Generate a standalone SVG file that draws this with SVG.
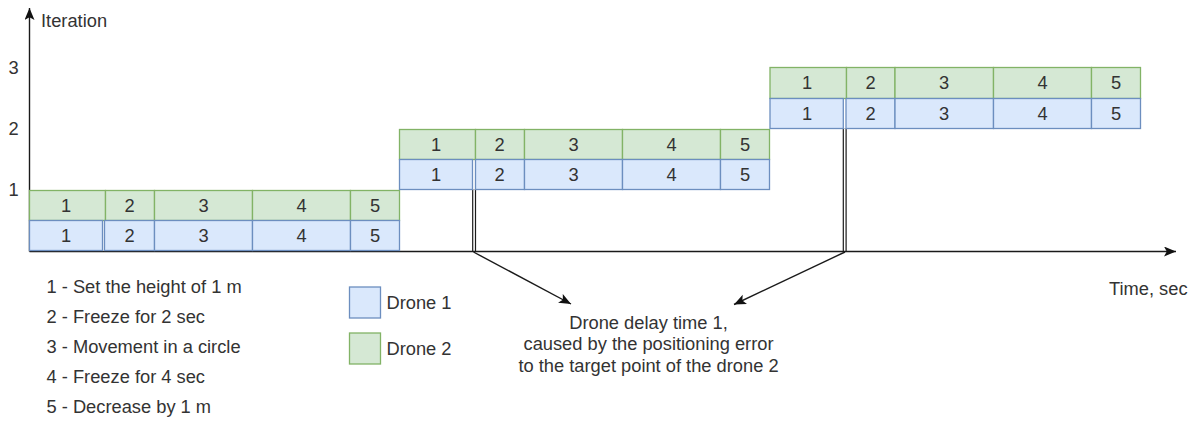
<svg xmlns="http://www.w3.org/2000/svg" width="1195" height="421" viewBox="0 0 1195 421">
<style>
text{font-family:"Liberation Sans",Arial,sans-serif;font-size:18.3px;fill:#333}
.c{text-anchor:middle}
.g{fill:#d5e8d4;stroke:#82b366;stroke-width:1.3}
.b{fill:#dae8fc;stroke:#6c8ebf;stroke-width:1.3}
.ax{stroke:#1a1a1a;stroke-width:1.4;fill:none}
.dl{stroke:#1a1a1a;stroke-width:4;fill:none}
.dlw{stroke:#fff;stroke-width:1.6;fill:none}
</style>
<defs>
<marker id="ah" markerUnits="userSpaceOnUse" markerWidth="15" markerHeight="12" refX="12" refY="5" orient="auto" viewBox="0 0 15 12">
<path d="M0,0 L12,5 L0,10 L2.8,5 Z" fill="#111"/>
</marker>
</defs>
<rect width="1195" height="421" fill="#fff"/>

<g id="connectors">
<line class="dl" x1="474.1" y1="189.5" x2="474.1" y2="251.5"/>
<line class="dlw" x1="474.1" y1="189.5" x2="474.1" y2="251"/>
<line class="dl" x1="844.7" y1="128.5" x2="844.7" y2="251.5"/>
<line class="dlw" x1="844.7" y1="128.5" x2="844.7" y2="251"/>
<line class="ax" x1="29.5" y1="251.5" x2="29.5" y2="8" marker-end="url(#ah)"/>
<line class="ax" x1="29.5" y1="251.5" x2="1176" y2="251.5" marker-end="url(#ah)"/>
<line class="ax" x1="473.5" y1="252" x2="571" y2="304" marker-end="url(#ah)"/>
<line class="ax" x1="845" y1="252" x2="734" y2="304.5" marker-end="url(#ah)"/>
</g>

<g id="block1">
<rect class="g" x="29.5" y="190.5" width="76" height="30"/>
<rect class="g" x="105.5" y="190.5" width="49" height="30"/>
<rect class="g" x="154.5" y="190.5" width="98" height="30"/>
<rect class="g" x="252.5" y="190.5" width="98" height="30"/>
<rect class="g" x="350.5" y="190.5" width="49" height="30"/>
<rect class="b" x="29.5" y="220.5" width="73" height="30"/>
<rect class="b" x="104.5" y="220.5" width="50" height="30"/>
<rect class="b" x="154.5" y="220.5" width="98" height="30"/>
<rect class="b" x="252.5" y="220.5" width="98" height="30"/>
<rect class="b" x="350.5" y="220.5" width="49" height="30"/>
<text class="c" x="66" y="211.5">1</text>
<text class="c" x="129.5" y="211.5">2</text>
<text class="c" x="203.5" y="211.5">3</text>
<text class="c" x="301.5" y="211.5">4</text>
<text class="c" x="375" y="211.5">5</text>
<text class="c" x="66" y="242">1</text>
<text class="c" x="129.5" y="242">2</text>
<text class="c" x="203.5" y="242">3</text>
<text class="c" x="301.5" y="242">4</text>
<text class="c" x="375" y="242">5</text>
</g>

<g id="block2">
<rect class="g" x="399.5" y="129.5" width="76" height="30"/>
<rect class="g" x="475.5" y="129.5" width="49" height="30"/>
<rect class="g" x="524.5" y="129.5" width="98" height="30"/>
<rect class="g" x="622.5" y="129.5" width="98" height="30"/>
<rect class="g" x="720.5" y="129.5" width="49" height="30"/>
<rect class="b" x="399.5" y="159.5" width="73" height="30"/>
<rect class="b" x="475.5" y="159.5" width="49" height="30"/>
<rect class="b" x="524.5" y="159.5" width="98" height="30"/>
<rect class="b" x="622.5" y="159.5" width="98" height="30"/>
<rect class="b" x="720.5" y="159.5" width="49" height="30"/>
<text class="c" x="436" y="150.5">1</text>
<text class="c" x="499.5" y="150.5">2</text>
<text class="c" x="573.5" y="150.5">3</text>
<text class="c" x="671.5" y="150.5">4</text>
<text class="c" x="745" y="150.5">5</text>
<text class="c" x="436" y="181">1</text>
<text class="c" x="499.5" y="181">2</text>
<text class="c" x="573.5" y="181">3</text>
<text class="c" x="671.5" y="181">4</text>
<text class="c" x="745" y="181">5</text>
</g>

<g id="block3">
<rect class="g" x="770" y="67.5" width="76.5" height="31"/>
<rect class="g" x="846.5" y="67.5" width="48.5" height="31"/>
<rect class="g" x="895" y="67.5" width="98.5" height="31"/>
<rect class="g" x="993.5" y="67.5" width="98" height="31"/>
<rect class="g" x="1091.5" y="67.5" width="49" height="31"/>
<rect class="b" x="770" y="98.5" width="73.3" height="30"/>
<rect class="b" x="846" y="98.5" width="49" height="30"/>
<rect class="b" x="895" y="98.5" width="98.5" height="30"/>
<rect class="b" x="993.5" y="98.5" width="98" height="30"/>
<rect class="b" x="1091.5" y="98.5" width="49" height="30"/>
<text class="c" x="807" y="89">1</text>
<text class="c" x="870.5" y="89">2</text>
<text class="c" x="944" y="89">3</text>
<text class="c" x="1042.5" y="89">4</text>
<text class="c" x="1116" y="89">5</text>
<text class="c" x="807" y="119.5">1</text>
<text class="c" x="870.5" y="119.5">2</text>
<text class="c" x="944" y="119.5">3</text>
<text class="c" x="1042.5" y="119.5">4</text>
<text class="c" x="1116" y="119.5">5</text>
</g>

<g id="axis-labels">
<text x="41" y="26.5">Iteration</text>
<text class="c" x="13.5" y="74">3</text>
<text class="c" x="13.5" y="135">2</text>
<text class="c" x="13.5" y="196">1</text>
<text x="1109" y="294.5">Time, sec</text>
</g>

<g id="legend-steps">
<text x="46.5" y="293">1 - Set the height of 1 m</text>
<text x="46.5" y="323">2 - Freeze for 2 sec</text>
<text x="46.5" y="353">3 - Movement in a circle</text>
<text x="46.5" y="383">4 - Freeze for 4 sec</text>
<text x="46.5" y="413">5 - Decrease by 1 m</text>
</g>

<g id="legend-drone1">
<rect class="b" x="349.5" y="287" width="31" height="31"/>
<text x="386.5" y="308.5">Drone 1</text>
</g>
<g id="legend-drone2">
<rect class="g" x="349.5" y="333" width="31" height="31"/>
<text x="386.5" y="354.5">Drone 2</text>
</g>

<g id="annotation">
<text class="c" x="648.5" y="328.5">Drone delay time 1,</text>
<text class="c" x="648.5" y="350">caused by the positioning error</text>
<text class="c" x="648.5" y="371.5">to the target point of the drone 2</text>
</g>
</svg>
